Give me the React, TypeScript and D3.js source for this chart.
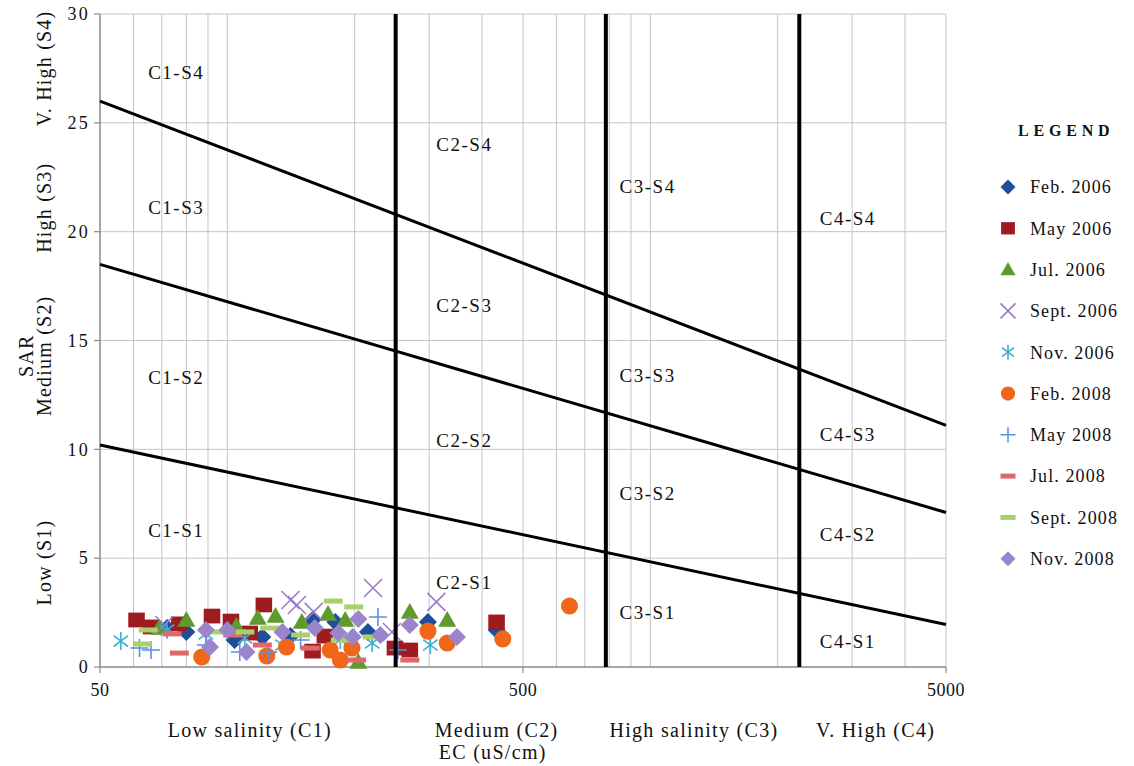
import { range, scaleLinear, scaleLog } from "d3"

// axis ticks
const ecTicks = [50, 500, 5000]
const sarTicks = [0, 5, 10, 15, 20, 25, 30]
const ecGrid = [...range(60, 100, 10), ...range(100, 1000, 100), ...range(1000, 5001, 1000)]

// salinity class boundaries (EC) and sodium hazard lines (SAR at EC=50 and EC=5000)
const ecBounds = [250, 785, 2250]
const sarLines = [[26, 11.1], [18.5, 7.1], [10.2, 1.95]]

// zone labels [name, EC, SAR]
const zoneNames = ["C1-S4", "C1-S3", "C1-S2", "C1-S1", "C2-S4", "C2-S3", "C2-S2", "C2-S1",
    "C3-S4", "C3-S3", "C3-S2", "C3-S1", "C4-S4", "C4-S3", "C4-S2", "C4-S1"]
const zoneEC = [65, 65, 65, 65, 312, 312, 312, 312, 846, 846, 846, 846, 2515, 2515, 2515, 2515]
const zoneSAR = [27.3, 21.1, 13.3, 6.3, 24.0, 16.6, 10.4, 3.9, 22.1, 13.4, 8.0, 2.5, 20.6, 10.7, 6.1, 1.2]

const sarBands = ["V. High (S4)", "High (S3)", "Medium (S2)", "Low (S1)"]
const sarBandPos = [27.5, 21.1, 14.3, 4.8]
const ecBands = ["Low salinity (C1)", "Medium (C2)", "High salinity (C3)", "V. High (C4)"]
const ecBandPos = [113, 433, 1268, 3410]

// samples [EC, SAR]
const feb2006 = [[72, 1.79], [80, 1.61], [104, 1.24], [121, 1.38], [141, 1.42], [159, 2.16], [180, 2.07], [215, 1.61], [298, 2.07], [433, 1.70]]
const may2006 = [[61, 2.16], [66, 1.84], [77, 1.98], [92, 2.34], [102, 2.11], [113, 1.56], [122, 2.85], [159, 0.73], [170, 1.42], [249, 0.87], [270, 0.78], [433, 2.07]]
const jul2006 = [[69, 1.79], [80, 2.16], [105, 1.88], [118, 2.25], [130, 2.34], [150, 2.07], [173, 2.43], [190, 2.16], [204, 0.23], [270, 2.53], [331, 2.16]]
const sep2006 = [[71, 1.93], [141, 3.08], [146, 2.85], [160, 2.53], [221, 3.63], [245, 1.61], [312, 2.99]]
const nov2006 = [[56, 1.19], [72, 1.70], [89, 1.52], [110, 1.33], [135, 1.01], [185, 1.24], [220, 1.10], [302, 1.01]]
const feb2008 = [[87, 0.46], [124, 0.51], [138, 0.92], [175, 0.78], [185, 0.32], [197, 0.87], [298, 1.65], [331, 1.10], [448, 1.29], [644, 2.80]]
const may2008 = [[62, 0.87], [66, 0.78], [89, 1.01], [107, 0.69], [125, 0.69], [149, 1.24], [227, 2.30], [253, 0.78]]
const jul2008 = [[74, 1.52], [77, 0.64], [103, 1.47], [121, 1.01], [157, 0.87], [202, 0.32], [270, 0.32]]
const sep2008 = [[65, 1.70], [63, 1.06], [94, 1.61], [110, 1.61], [126, 1.79], [149, 1.47], [178, 3.03], [199, 2.76], [185, 1.24], [220, 1.38]]
const nov2008 = [[89, 1.70], [100, 1.70], [91, 0.92], [111, 0.69], [135, 1.61], [161, 1.79], [183, 1.56], [198, 1.38], [204, 2.20], [230, 1.47], [270, 1.93], [349, 1.38]]

const seriesNames = ["Feb. 2006", "May 2006", "Jul. 2006", "Sept. 2006", "Nov. 2006", "Feb. 2008", "May 2008", "Jul. 2008", "Sept. 2008", "Nov. 2008"]
const seriesData = [feb2006, may2006, jul2006, sep2006, nov2006, feb2008, may2008, jul2008, sep2008, nov2008]
const seriesShapes = ["diamond", "square", "triangle", "x", "star", "circle", "plus", "dash", "dash", "diamond"]
const seriesColors = ["#1F4E9A", "#9E1C20", "#5E9A2C", "#9A7BC6", "#3FB0CC", "#F0661A", "#5B8FE0", "#E0686A", "#A6D16B", "#9A84CC"]

const font = "'Liberation Serif', 'Times New Roman', serif"

const Marker = ({shape, x, y, s, color}: {shape: string, x: number, y: number, s: number, color: string}) => {
    const h = s / 2
    switch (shape) {
        case "diamond":
            return <path d={`M${x},${y - h}L${x + h},${y}L${x},${y + h}L${x - h},${y}Z`} fill={color} />
        case "square":
            return <rect x={x - h * 0.92} y={y - h * 0.82} width={s * 0.92} height={s * 0.82} fill={color} />
        case "triangle":
            return <path d={`M${x},${y - h}L${x + h},${y + h * 0.75}L${x - h},${y + h * 0.75}Z`} fill={color} />
        case "circle":
            return <circle cx={x} cy={y} r={h * 0.95} fill={color} />
        case "x":
            return <path d={`M${x - h},${y - h}L${x + h},${y + h}M${x + h},${y - h}L${x - h},${y + h}`} stroke={color} strokeWidth={1.6} fill="none" />
        case "star":
            return <path d={`M${x - h * 0.8},${y - h * 0.6}L${x + h * 0.8},${y + h * 0.6}M${x + h * 0.8},${y - h * 0.6}L${x - h * 0.8},${y + h * 0.6}M${x},${y - h}L${x},${y + h}`} stroke={color} strokeWidth={1.6} fill="none" />
        case "plus":
            return <path d={`M${x - h},${y}L${x + h},${y}M${x},${y - h}L${x},${y + h}`} stroke={color} strokeWidth={1.6} fill="none" />
        case "dash":
            return <rect x={x - h} y={y - 2.5} width={s} height={5} fill={color} />
    }
    return null
}

const App = () => {
    const W = 1134
    const H = 766
    const x = scaleLog().domain([50, 5000]).range([100, 946])
    const y = scaleLinear().domain([0, 30]).range([667, 14])

    return (
        <svg width={W} height={H} style={{position: "absolute", left: 0, top: 0, background: "#fff"}} fontFamily={font}>
            {/* grid */}
            {ecGrid.map(v => <line key={"gx" + v} x1={x(v)} x2={x(v)} y1={y(0)} y2={y(30)} stroke="#C4C4C4" strokeWidth={1} />)}
            {sarTicks.filter(v => v > 0).map(v => <line key={"gy" + v} x1={x(50)} x2={x(5000)} y1={y(v)} y2={y(v)} stroke="#C4C4C4" strokeWidth={1} />)}

            {/* axes */}
            <line x1={x(50)} x2={x(50)} y1={y(0)} y2={y(30)} stroke="#8A8A8A" strokeWidth={1.5} />
            <line x1={x(50)} x2={x(5000)} y1={y(0)} y2={y(0)} stroke="#8A8A8A" strokeWidth={1.5} />
            {sarTicks.map(v => <line key={"ty" + v} x1={x(50) - 6} x2={x(50)} y1={y(v)} y2={y(v)} stroke="#8A8A8A" strokeWidth={1.2} />)}
            {ecTicks.map(v => <line key={"tx" + v} x1={x(v)} x2={x(v)} y1={y(0)} y2={y(0) + 6} stroke="#8A8A8A" strokeWidth={1.2} />)}

            {sarTicks.map(v => (
                <text key={"ly" + v} x={x(50) - 10} y={y(v)} dy="0.35em" textAnchor="end" fontSize={18} letterSpacing={2.2} fill="#111">{v}</text>
            ))}
            {ecTicks.map(v => (
                <text key={"lx" + v} x={x(v)} y={y(0) + 29} textAnchor="middle" fontSize={18} letterSpacing={0.5} fill="#111">{v}</text>
            ))}

            {/* data */}
            {seriesData.map((pts, i) => (
                <g key={"s" + i}>
                    {pts.map((p, j) => (
                        <Marker key={j} shape={seriesShapes[i]} x={x(p[0])} y={y(p[1])} s={seriesShapes[i] === "dash" ? 19 : 18} color={seriesColors[i]} />
                    ))}
                </g>
            ))}

            {/* class boundaries */}
            {ecBounds.map(v => <line key={"b" + v} x1={x(v)} x2={x(v)} y1={y(0)} y2={y(30)} stroke="#000" strokeWidth={4} />)}
            {sarLines.map((l, i) => <line key={"sl" + i} x1={x(50)} x2={x(5000)} y1={y(l[0])} y2={y(l[1])} stroke="#000" strokeWidth={3} />)}

            {/* zone labels */}
            {zoneNames.map((n, i) => (
                <text key={n} x={x(zoneEC[i])} y={y(zoneSAR[i])} dy="0.35em" fontSize={19} letterSpacing={1.5} fill="#111">{n}</text>
            ))}

            {/* y axis band labels */}
            {sarBands.map((n, i) => (
                <text key={n} transform={`translate(51,${y(sarBandPos[i])}) rotate(-90)`} textAnchor="middle" fontSize={20} letterSpacing={1.2} fill="#111">{n}</text>
            ))}
            <text transform={`translate(33,${y(sarBandPos[2])}) rotate(-90)`} textAnchor="middle" fontSize={20} letterSpacing={1.2} fill="#111">SAR</text>

            {/* x axis band labels */}
            {ecBands.map((n, i) => (
                <text key={n} x={x(ecBandPos[i])} y={737} textAnchor="middle" fontSize={20} letterSpacing={1.3} fill="#111">{n}</text>
            ))}
            <text x={x(424)} y={759} textAnchor="middle" fontSize={20} letterSpacing={1.3} fill="#111">EC (uS/cm)</text>

            {/* legend */}
            <text x={1018} y={136} fontSize={16} fontWeight="bold" letterSpacing={4.8} fill="#111">LEGEND</text>
            {seriesNames.map((n, i) => {
                const ly = 187 + i * 41.3
                return (
                    <g key={n}>
                        <Marker shape={seriesShapes[i]} x={1008} y={ly} s={15} color={seriesColors[i]} />
                        <text x={1030} y={ly} dy="0.35em" fontSize={18} letterSpacing={1.1} fill="#111">{n}</text>
                    </g>
                )
            })}
        </svg>
    )
}

export default App
